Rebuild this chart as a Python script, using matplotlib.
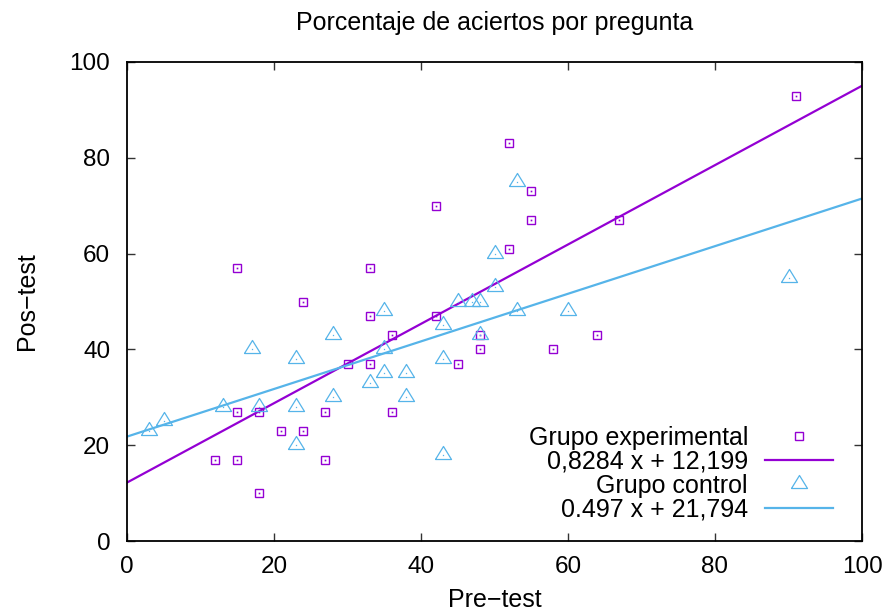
import matplotlib
matplotlib.use('Agg')
import matplotlib.pyplot as plt

plt.rcParams['font.family'] = ['Liberation Sans', 'DejaVu Sans']

# grupo experimental (pre-test, pos-test)
exp_pre = [91, 52, 42, 55, 55, 52, 67, 15, 33, 24, 33, 42, 36, 48, 64,
           48, 58, 30, 33, 45, 15, 18, 27, 36, 21, 24, 12, 15, 27, 18]
exp_pos = [93, 83, 70, 73, 67, 61, 67, 57, 57, 50, 47, 47, 43, 43, 43,
           40, 40, 37, 37, 37, 27, 27, 27, 27, 23, 23, 17, 17, 17, 10]

# grupo control
ctl_pre = [3, 5, 13, 17, 18, 23, 23, 23, 28, 28, 33, 35, 35, 35, 38,
           38, 43, 43, 43, 45, 47, 48, 48, 50, 50, 53, 53, 60, 90]
ctl_pos = [23, 25, 28, 40, 28, 38, 28, 20, 43, 30, 33, 48, 40, 35, 35,
           30, 45, 38, 18, 50, 50, 50, 43, 60, 53, 75, 48, 48, 55]

# ajustes lineales (pendiente, ordenada)
exp_fit = (0.8284, 12.199)
ctl_fit = (0.497, 21.794)
exp_fit_label = '0,8284 x + 12,199'
ctl_fit_label = '0.497 x + 21,794'

c_exp = '#9400d3'
c_ctl = '#56b4e9'

# triangle like the gnuplot one (point sits low inside it)
tri = [(-1, -0.5), (1, -0.5), (0, 1.125), (-1, -0.5)]

fig = plt.figure(figsize=(8.89, 6.14), dpi=100)
ax = fig.add_axes([127 / 889, 1 - 541 / 614, 735 / 889, 479 / 614])

ax.plot(exp_pre, exp_pos, ls='none', marker='s', ms=6, mfc='none',
        mec=c_exp, mew=1.0, label='Grupo experimental')
ax.plot(exp_pre, exp_pos, ls='none', marker='s', ms=1.2, mfc=c_exp, mec=c_exp, mew=0)
ax.axline((0, exp_fit[1]), slope=exp_fit[0], color=c_exp, lw=1.6, label=exp_fit_label)

ax.plot(ctl_pre, ctl_pos, ls='none', marker=tri, ms=13, mfc='none',
        mec=c_ctl, mew=0.9, label='Grupo control')
ax.plot(ctl_pre, ctl_pos, ls='none', marker='s', ms=0.9, mfc=c_ctl, mec=c_ctl, mew=0)
ax.axline((0, ctl_fit[1]), slope=ctl_fit[0], color=c_ctl, lw=1.6, label=ctl_fit_label)

ax.set_xlim(0, 100)
ax.set_ylim(0, 100)
ax.set_xticks(range(0, 101, 20))
ax.set_yticks(range(0, 101, 20))
ax.tick_params(direction='in', length=6, width=1, colors='#333333',
               top=True, right=True, labelsize=17.5, labelcolor='black')
ax.tick_params(axis='y', pad=12)
ax.tick_params(axis='x', pad=11)
for s in ax.spines.values():
    s.set_linewidth(1.3)

ax.set_title('Porcentaje de aciertos por pregunta', fontsize=18, pad=23)
ax.set_xlabel('Pre\u2212test', fontsize=18, labelpad=7)
ax.set_ylabel('Pos\u2212test', fontsize=18, labelpad=22)

ax.legend(loc='lower right', frameon=False, markerfirst=False, fontsize=18,
          handlelength=2.7, handletextpad=0.68, labelspacing=0.0,
          borderaxespad=0.9, bbox_to_anchor=(1 + 3 / 735, -13 / 479))

fig.savefig('out.png', dpi=100)
